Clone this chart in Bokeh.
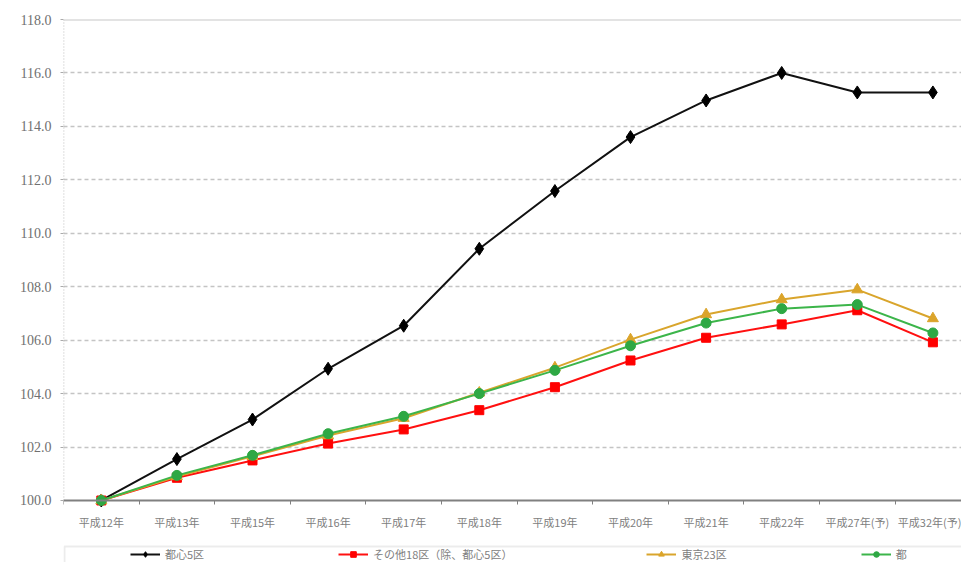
from bokeh.plotting import figure
from bokeh.models import (FixedTicker, PrintfTickFormatter, Legend, LegendItem,
                          Span, BoxAnnotation, Range1d, ColumnDataSource)
from bokeh.embed import file_html
from bokeh.resources import INLINE

categories = ["平成12年", "平成13年", "平成15年", "平成16年", "平成17年", "平成18年",
              "平成19年", "平成20年", "平成21年", "平成22年", "平成27年(予)", "平成32年(予)"]
toshin5 = [100.0, 101.55, 103.03, 104.93, 106.54, 109.42, 111.58, 113.6, 114.97, 116.0, 115.27, 115.27]
sonota18 = [100.0, 100.85, 101.5, 102.13, 102.66, 103.38, 104.24, 105.24, 106.09, 106.59, 107.12, 105.92]
ku23 = [100.0, 100.9, 101.65, 102.43, 103.08, 104.03, 104.97, 106.02, 106.96, 107.52, 107.89, 106.81]
to = [100.0, 100.94, 101.69, 102.5, 103.15, 104.0, 104.87, 105.79, 106.64, 107.18, 107.33, 106.27]
series_names = ["都心5区", "その他18区（除、都心5区）", "東京23区", "都"]
y_ticks = [100, 102, 104, 106, 108, 110, 112, 114, 116, 118]

xs = list(range(len(categories)))
src = ColumnDataSource(dict(x=xs, a=toshin5, b=sonota18, c=ku23, d=to))

W, H = 961, 562
LEFT, TOP = 63, 19
step_px = 75.6
unit_px = 26.72
x_end = -0.5 + (W - LEFT) / step_px
y_start = y_ticks[0] - (H - 500) / unit_px
box_top = y_ticks[0] - (546 - 500) / unit_px

p = figure(width=W, height=H, output_backend="svg", toolbar_location=None,
           min_border_left=LEFT, min_border_right=0, min_border_top=TOP, min_border_bottom=0,
           x_range=Range1d(-0.5, x_end), y_range=Range1d(y_start, y_ticks[-1]))
p.outline_line_color = None
p.background_fill_color = "white"

# y axis
p.yaxis.ticker = FixedTicker(ticks=y_ticks)
p.yaxis.formatter = PrintfTickFormatter(format="%.1f")
p.yaxis.axis_line_color = None
p.yaxis.major_tick_line_color = "#aaaaaa"
p.yaxis.major_tick_out = 3
p.yaxis.major_tick_in = 0
p.yaxis.minor_tick_line_color = None
p.yaxis.major_label_text_font = "Liberation Serif"
p.yaxis.major_label_text_font_size = "14px"
p.yaxis.major_label_text_color = "#707070"
p.yaxis.major_label_standoff = 9
p.segment(x0=[-0.5], y0=[y_ticks[0]], x1=[-0.5], y1=[y_ticks[-1]],
          line_color="#aaaaaa", line_dash="1 2", line_width=1.5)

# x axis, fixed at the base value
p.xaxis.fixed_location = y_ticks[0]
p.xaxis.ticker = FixedTicker(ticks=xs, minor_ticks=[i - 0.5 for i in xs] + [len(xs) - 0.5])
p.xaxis.major_label_overrides = {i: c for i, c in zip(xs, categories)}
p.xaxis.major_tick_line_color = None
p.xaxis.minor_tick_line_color = "#808080"
p.xaxis.minor_tick_out = 4
p.xaxis.minor_tick_in = 0
p.xaxis.axis_line_color = "#808080"
p.xaxis.axis_line_width = 2
p.xaxis.major_label_text_font = "Noto Sans CJK JP"
p.xaxis.major_label_text_font_size = "11px"
p.xaxis.major_label_text_color = "#808080"
p.xaxis.major_label_standoff = 8

p.xgrid.grid_line_color = None
p.ygrid.ticker = FixedTicker(ticks=y_ticks[1:-1])
p.ygrid.grid_line_color = "#c4c4c4"
p.ygrid.grid_line_dash = "4 3"
p.ygrid.grid_line_width = 1.5
p.add_layout(Span(location=y_ticks[-1], dimension="width", line_color="#c8c8c8", line_width=2))

# legend box
p.add_layout(BoxAnnotation(left=-0.5 + 1 / step_px, right=x_end + 1, top=box_top, bottom=y_start - 1,
                           fill_alpha=0.0, line_color="#c0c0c0", line_width=2))

# series
r1l = p.line("x", "a", source=src, line_color="#111111", line_width=2)
r1m = p.scatter("x", "a", source=src, marker="diamond", size=13, fill_color="#000000", line_color="#000000")
r2l = p.line("x", "b", source=src, line_color="#ff1010", line_width=2)
r2m = p.scatter("x", "b", source=src, marker="square", size=9, fill_color="#ff0000", line_color="#ff0000")
r3l = p.line("x", "c", source=src, line_color="#d9a52c", line_width=2)
r3m = p.scatter("x", "c", source=src, marker="triangle", size=11, fill_color="#dba42a", line_color="#dba42a")
r4l = p.line("x", "d", source=src, line_color="#3cb54a", line_width=2)
r4m = p.scatter("x", "d", source=src, marker="circle", size=10, fill_color="#2ea844", line_color="#2ea844")

legend = Legend(items=[LegendItem(label=series_names[0], renderers=[r1l, r1m]),
                       LegendItem(label=series_names[1], renderers=[r2l, r2m]),
                       LegendItem(label=series_names[2], renderers=[r3l, r3m]),
                       LegendItem(label=series_names[3], renderers=[r4l, r4m])],
                orientation="horizontal", location=(67, 0),
                border_line_color=None, background_fill_alpha=0.0,
                padding=0, margin=0, spacing=134, glyph_width=30, glyph_height=14,
                label_height=14, label_standoff=5,
                label_text_font="Noto Sans CJK JP", label_text_font_size="11px",
                label_text_color="#808080")
p.add_layout(legend, "center")

open("out.html", "w").write(file_html(p, INLINE))
